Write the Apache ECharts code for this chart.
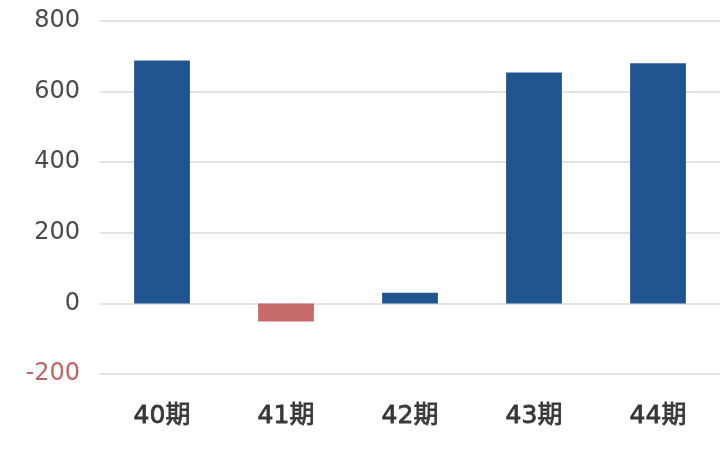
<!DOCTYPE html>
<html><head><meta charset="utf-8">
<script src="https://cdn.jsdelivr.net/npm/echarts@6/dist/echarts.min.js"></script>
<style>html,body{margin:0;padding:0;background:#fff}#c{width:720px;height:450px}</style>
</head><body><div id="c"></div>
<script>
const categories = ['40期', '41期', '42期', '43期', '44期'];
const values = [688, -51, 30, 654, 680];
const yTicks = { min: -200, max: 800, interval: 200 };

const chart = echarts.init(document.getElementById('c'), null, { renderer: 'canvas' });
chart.setOption({
  animation: false,
  grid: { left: 100, right: 0, top: 21, bottom: 76, containLabel: false },
  xAxis: {
    type: 'category',
    data: categories,
    axisLine: { show: false },
    axisTick: { show: false },
    axisLabel: {
      margin: 30, fontSize: 25, fontWeight: 'normal', color: '#383838',
      textBorderColor: '#383838', textBorderWidth: 0.8,
      fontFamily: '"DejaVu Sans", "Noto Sans CJK JP"'
    }
  },
  yAxis: {
    type: 'value',
    min: yTicks.min, max: yTicks.max, interval: yTicks.interval,
    axisLine: { show: false },
    axisTick: { show: false },
    splitLine: { lineStyle: { color: '#dadada', width: 1.5 } },
    axisLabel: {
      margin: 20, fontSize: 24, fontFamily: '"DejaVu Sans", "Noto Sans CJK JP"',
      color: function (v) { return Number(v) < 0 ? '#c46462' : '#4a4a4a'; }
    }
  },
  series: [{
    type: 'bar',
    barWidth: '45%',
    data: values.map(v => ({ value: v, itemStyle: { color: v < 0 ? '#c76b6a' : '#215592' } }))
  }]
});
</script></body></html>
